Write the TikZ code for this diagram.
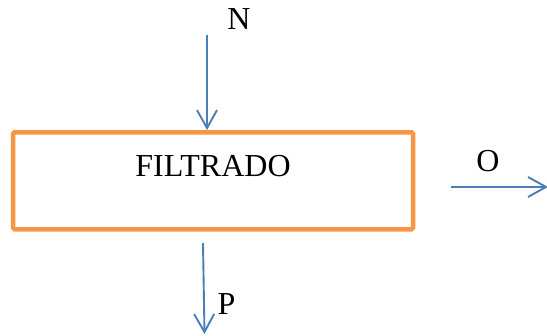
\documentclass[tikz,border=0pt]{standalone}
\usepackage{fontspec}
\setmainfont{Liberation Serif}
\usetikzlibrary{arrows.meta}
\definecolor{naranja}{HTML}{F79646}
\definecolor{azul}{HTML}{4A7EBB}
\tikzset{
	flujo/.style={azul,line width=1.9pt,-{Straight Barb[length=18pt,width=20pt]}},
	caja/.style={draw=naranja,line width=4.5pt,rounded corners=1.5pt}
}
\begin{document}
\begin{tikzpicture}[x=1pt,y=-1pt,font=\fontsize{32}{38}\selectfont]
	\useasboundingbox (0,0) rectangle (547,336);
	\node[caja,minimum width=400pt,minimum height=97pt] (filtrado) at (213,180.8) {};
	\node (texto) at (213,166) {FILTRADO};
	\coordinate (entradaN) at (207,35);
	\coordinate (salidaO) at (451,187);
	\coordinate (finO) at (548,187);
	\coordinate (salidaP) at (203,243);
	\coordinate (finP) at (204.5,334);
	\draw[flujo] (entradaN) -- (entradaN |- filtrado.north);
	\draw[flujo] (salidaO) -- (finO);
	\draw[flujo] (salidaP) -- (finP);
	\node (N) at (239,19) {N};
	\node (O) at (488,161) {O};
	\node (P) at (226.5,304) {P};
\end{tikzpicture}
\end{document}
